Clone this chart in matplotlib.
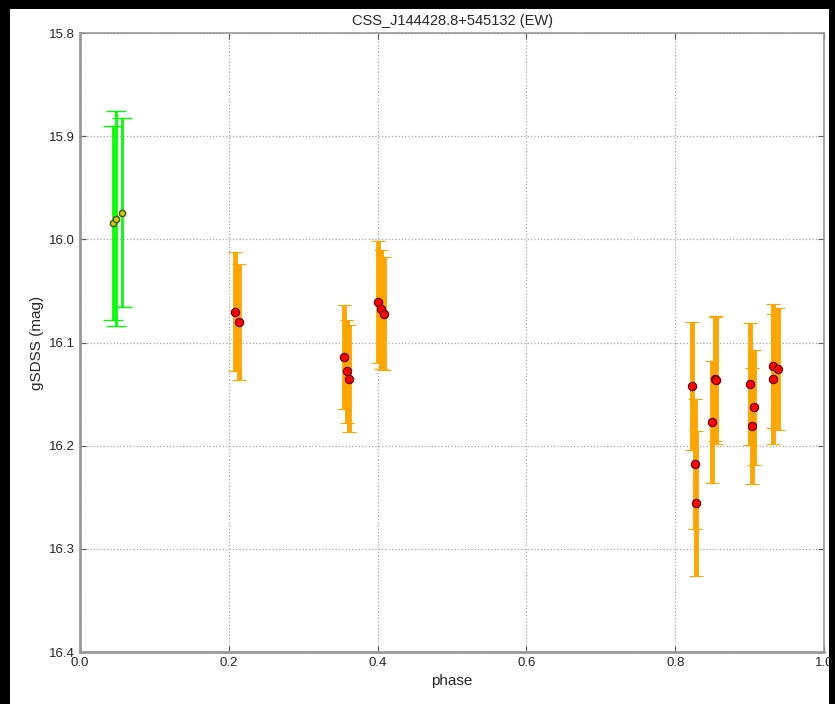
import matplotlib
matplotlib.use('Agg')
import matplotlib.pyplot as plt
from matplotlib.patches import Rectangle

# green (first) group
phase_g = [0.044, 0.049, 0.057]
mag_g = [15.984, 15.980, 15.974]
err_g = [0.094, 0.104, 0.092]

# orange group
phase_o = [0.209, 0.214, 0.355, 0.359, 0.362, 0.401, 0.404, 0.408,
           0.822, 0.826, 0.828, 0.850, 0.853, 0.855,
           0.901, 0.903, 0.906, 0.931, 0.932, 0.938]
mag_o = [16.070, 16.080, 16.114, 16.128, 16.135, 16.061, 16.068, 16.072,
         16.142, 16.218, 16.256, 16.177, 16.135, 16.136,
         16.140, 16.181, 16.163, 16.135, 16.123, 16.126]
err_o = [0.058, 0.056, 0.050, 0.050, 0.052, 0.059, 0.058, 0.055,
         0.062, 0.063, 0.070, 0.059, 0.060, 0.062,
         0.059, 0.056, 0.056, 0.063, 0.060, 0.059]

xticks = [0.0, 0.2, 0.4, 0.6, 0.8, 1.0]
yticks = [15.8, 15.9, 16.0, 16.1, 16.2, 16.3, 16.4]
title = 'CSS_J144428.8+545132 (EW)'

plt.rcParams['font.family'] = ['Liberation Sans', 'DejaVu Sans']

fig = plt.figure(figsize=(8.35, 7.04), dpi=100)
fig.patch.set_facecolor('black')
# white page inside a thin black frame (left, top, right)
fig.add_artist(Rectangle((10 / 835, 0), 819 / 835, 695 / 704,
                         transform=fig.transFigure, facecolor='white',
                         edgecolor='none', zorder=-10))

ax = fig.add_axes([80 / 835, 52 / 704, 744 / 835, 619 / 704])

ax.errorbar(phase_g, mag_g, yerr=err_g, fmt='o', color='lime',
            ecolor='lime', elinewidth=2, capsize=7, capthick=1,
            markerfacecolor='#d4c800', markeredgecolor='#3a5a00',
            markersize=4.5, zorder=3)
ax.errorbar(phase_o, mag_o, yerr=err_o, fmt='o', color='orange',
            ecolor='orange', elinewidth=3.5, capsize=5, capthick=1,
            markerfacecolor='red', markeredgecolor='#5a0000',
            markeredgewidth=0.8, markersize=6, zorder=3)

ax.set_xlim(0.0, 1.0)
ax.set_ylim(16.4, 15.8)
ax.set_xticks(xticks)
ax.set_yticks(yticks)
ax.set_xticklabels(['%.1f' % v for v in xticks])
ax.set_yticklabels(['%.1f' % v for v in yticks])
ax.tick_params(direction='in', length=4, labelsize=9.5, colors='0.35',
               labelcolor='0.15', top=True, right=True)
ax.grid(True, color='0.65', linestyle=':', linewidth=0.9)
for sp in ax.spines.values():
    sp.set_color('0.6')
    sp.set_linewidth(1.2)
ax.spines['left'].set_linewidth(2)
ax.spines['bottom'].set_linewidth(2)

ax.set_xlabel('phase', fontsize=11, color='0.15')
ax.set_ylabel('gSDSS (mag)', fontsize=11, color='0.15')
ax.set_title(title, fontsize=10.5, pad=6, color='0.15')

fig.savefig('out.png', dpi=100, facecolor=fig.get_facecolor())
